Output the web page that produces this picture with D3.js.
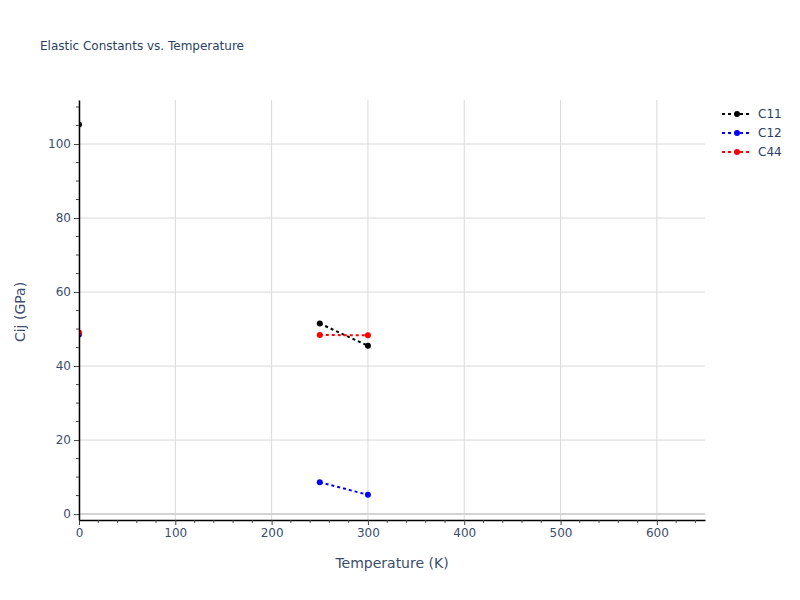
<!DOCTYPE html>
<html>
<head>
<meta charset="utf-8">
<script src="https://cdn.jsdelivr.net/npm/d3@7"></script>
<style>
  body { margin: 0; background: #fff; }
  text { font-family: "DejaVu Sans", Verdana, sans-serif; fill: #2a3f5f; }
</style>
</head>
<body>
<div id="chart"></div>
<script>
var svgWidth = 800;
var svgHeight = 600;

var margin = { top: 100, right: 95, bottom: 80, left: 79 };
var width = svgWidth - margin.left - margin.right;
var height = svgHeight - margin.top - margin.bottom;

// Data (null = gap in the line)
var temperatures = [0, null, 250, 300];
var seriesNames = ["C11", "C12", "C44"];
var seriesColors = ["black", "blue", "red"];
var c11 = [105.3, null, 51.5, 45.5];
var c12 = [48.5, null, 8.6, 5.2];
var c44 = [49.1, null, 48.4, 48.3];
var xTicks = [0, 100, 200, 300, 400, 500, 600];
var yTicks = [0, 20, 40, 60, 80, 100];

var series = [c11, c12, c44].map(function(vals, i) {
  return {
    name: seriesNames[i],
    color: seriesColors[i],
    points: vals.map(function(v, j) { return { x: temperatures[j], y: v }; })
  };
});

var svg = d3.select("#chart")
  .append("svg")
  .attr("width", svgWidth)
  .attr("height", svgHeight);

svg.append("text")
  .attr("x", 40)
  .attr("y", 50)
  .style("font-size", "12px")
  .text("Elastic Constants vs. Temperature");

var chartGroup = svg.append("g")
  .attr("transform", `translate(${margin.left}, ${margin.top})`);

var xScale = d3.scaleLinear().domain([0, 650]).range([0, width]);
var yScale = d3.scaleLinear().domain([-1.6, 111.9]).range([height, 0]);

// grid
chartGroup.append("g")
  .selectAll("line")
  .data(xTicks)
  .enter().append("line")
  .attr("x1", d => xScale(d)).attr("x2", d => xScale(d))
  .attr("y1", 0).attr("y2", height)
  .attr("stroke", "#d9d9d9").attr("stroke-width", 1);

chartGroup.append("g")
  .selectAll("line")
  .data(yTicks)
  .enter().append("line")
  .attr("x1", 0).attr("x2", width)
  .attr("y1", d => yScale(d)).attr("y2", d => yScale(d))
  .attr("stroke", d => d === 0 ? "#d3d3d3" : "#d9d9d9")
  .attr("stroke-width", d => d === 0 ? 2 : 1);

// clip for the traces
chartGroup.append("clipPath").attr("id", "plotclip")
  .append("rect").attr("width", width).attr("height", height);

var traces = chartGroup.append("g").attr("clip-path", "url(#plotclip)");

var line = d3.line()
  .defined(d => d.x !== null && d.y !== null)
  .x(d => xScale(d.x))
  .y(d => yScale(d.y));

series.forEach(function(s) {
  traces.append("path")
    .datum(s.points)
    .attr("d", line)
    .attr("fill", "none")
    .attr("stroke", s.color)
    .attr("stroke-width", 2)
    .attr("stroke-dasharray", "3,3");

  traces.selectAll(null)
    .data(s.points.filter(d => d.x !== null))
    .enter().append("circle")
    .attr("cx", d => xScale(d.x))
    .attr("cy", d => yScale(d.y))
    .attr("r", 3)
    .attr("fill", s.color);
});

// axes
var minorX = d3.range(0, 651, 20).filter(d => d % 100 !== 0);
var minorY = d3.range(0, 112, 5).filter(d => d % 20 !== 0);

var xAxis = chartGroup.append("g")
  .attr("transform", `translate(0, ${height})`)
  .call(d3.axisBottom(xScale).tickValues(xTicks).tickSize(5).tickSizeOuter(0).tickPadding(3));
xAxis.append("g").selectAll("line")
  .data(minorX).enter().append("line")
  .attr("x1", d => xScale(d)).attr("x2", d => xScale(d))
  .attr("y1", 0).attr("y2", 3).attr("stroke", "#444");

var yAxis = chartGroup.append("g")
  .call(d3.axisLeft(yScale).tickValues(yTicks).tickSize(5).tickSizeOuter(0).tickPadding(3));
yAxis.append("g").selectAll("line")
  .data(minorY).enter().append("line")
  .attr("y1", d => yScale(d)).attr("y2", d => yScale(d))
  .attr("x1", 0).attr("x2", -3).attr("stroke", "#444");

[xAxis, yAxis].forEach(function(ax) {
  ax.select(".domain").attr("stroke", "black").attr("stroke-width", 1.5);
  ax.selectAll(".tick line").attr("stroke", "#444");
  ax.selectAll(".tick text")
    .style("font-size", "12px")
    .style("font-family", '"DejaVu Sans", Verdana, sans-serif')
    .style("fill", "#3b4d6b");
});

// axis titles
chartGroup.append("text")
  .attr("x", width / 2)
  .attr("y", height + 48)
  .attr("text-anchor", "middle")
  .style("font-size", "14px")
  .style("fill", "#3b4d6b")
  .text("Temperature (K)");

chartGroup.append("text")
  .attr("transform", "rotate(-90)")
  .attr("x", -height / 2 - 2)
  .attr("y", -54)
  .attr("text-anchor", "middle")
  .style("font-size", "14px")
  .style("fill", "#3b4d6b")
  .text("Cij (GPa)");

// legend
var legend = svg.append("g")
  .attr("transform", "translate(722, 114)");

series.forEach(function(s, i) {
  var row = legend.append("g").attr("transform", `translate(0, ${i * 19})`);
  row.append("line")
    .attr("x1", 0).attr("x2", 30)
    .attr("stroke", s.color).attr("stroke-width", 2)
    .attr("stroke-dasharray", "3,3");
  row.append("circle").attr("cx", 15).attr("r", 3).attr("fill", s.color);
  row.append("text")
    .attr("x", 36).attr("y", 4)
    .style("font-size", "12px")
    .text(s.name);
});
</script>
</body>
</html>
